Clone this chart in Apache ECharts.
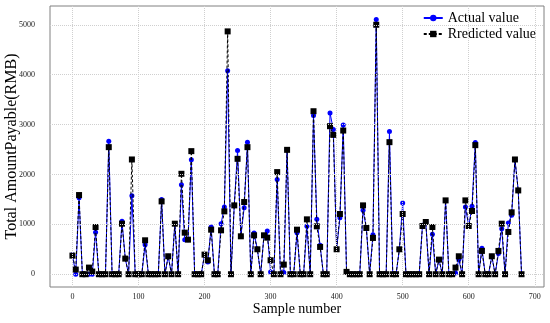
<!DOCTYPE html>
<html>
<head>
<meta charset="utf-8">
<script src="https://cdn.jsdelivr.net/npm/echarts@6/dist/echarts.min.js"></script>
<style>
html,body{margin:0;padding:0;background:#fff;}
#chart{width:550px;height:323px;}
</style>
</head>
<body>
<div id="chart"></div>
<script>
const sampleNumbers = [0,5,10,15,20,25,30,35,40,45,50,55,60,65,70,75,80,85,90,95,100,105,110,115,120,125,130,135,140,145,150,155,160,165,170,175,180,185,190,195,200,205,210,215,220,225,230,235,240,245,250,255,260,265,270,275,280,285,290,295,300,305,310,315,320,325,330,335,340,345,350,355,360,365,370,375,380,385,390,395,400,405,410,415,420,425,430,435,440,445,450,455,460,465,470,475,480,485,490,495,500,505,510,515,520,525,530,535,540,545,550,555,560,565,570,575,580,585,590,595,600,605,610,615,620,625,630,635,640,645,650,655,660,665,670,675,680];
const actualValues = [390,0,1533,0,0,0,0,840,0,0,0,2667,0,0,0,1060,313,0,1573,0,0,0,593,0,0,0,0,1500,0,360,0,1013,0,1793,693,693,2293,0,0,0,393,247,947,0,0,1013,1347,4080,0,1380,2480,760,1333,2647,0,827,500,0,780,867,47,0,1900,0,33,2493,0,0,833,0,0,960,0,3180,1100,580,0,0,3233,2900,500,1133,2993,47,0,0,0,0,1280,927,0,793,5107,0,0,0,2860,0,0,500,1427,0,0,0,0,0,980,1047,0,800,0,293,0,1480,0,0,27,293,0,1347,967,1360,2640,0,520,0,0,360,0,413,913,0,1027,1180,2300,1680,0];
const predictedValues = [373,93,1587,0,0,133,53,947,0,0,0,2547,0,0,0,1013,313,0,2300,0,0,0,680,0,0,0,0,1460,0,360,0,1013,0,2013,833,693,2467,0,0,0,393,280,893,0,0,880,1260,4867,0,1380,2313,760,1447,2547,0,780,500,0,780,733,280,0,2047,0,193,2493,0,0,893,0,0,1100,0,3267,960,547,0,0,2967,2793,500,1207,2880,47,0,0,0,0,1380,927,0,727,5000,0,0,0,2647,0,0,500,1207,0,0,0,0,0,967,1047,0,947,0,293,0,1480,0,0,133,360,0,1480,967,1267,2587,0,467,0,0,360,0,467,1013,0,847,1240,2300,1680,0];
const xTickValues = [0,100,200,300,400,500,600,700];
const yTickValues = [0,1000,2000,3000,4000,5000];

const serif = "'Liberation Serif','DejaVu Serif',serif";
const chart = echarts.init(document.getElementById('chart'), null, {renderer:'canvas'});
const gridLines = xTickValues.map(v => ({xAxis: v})).concat(yTickValues.map(v => ({yAxis: v})));

chart.setOption({
  animation: false,
  backgroundColor: '#fff',
  grid: {left: 50, top: 6, width: 494, height: 281, show: true, borderColor: '#808080', borderWidth: 1,
    backgroundColor: 'transparent', containLabel: false, outerBoundsMode: 'none'},
  legend: {
    orient: 'vertical', right: 9, top: 6, itemWidth: 19, itemHeight: 8, itemGap: 2,
    textStyle: {fontFamily: serif, fontSize: 14, color: '#000'},
    data: ['Actual value', 'Rredicted value']
  },
  xAxis: {
    type: 'value', min: -34, max: 714,
    name: 'Sample number', nameLocation: 'middle', nameGap: 15, nameMoveOverlap: false,
    nameTextStyle: {fontFamily: serif, fontSize: 14, color: '#000'},
    axisLine: {show: false}, axisTick: {show: false}, splitLine: {show: false},
    axisLabel: {customValues: xTickValues, margin: 6, fontFamily: serif, fontSize: 8, color: '#222',
      formatter: v => String(v)}
  },
  yAxis: {
    type: 'value', min: -256, max: 5376,
    name: 'Total AmountPayable(RMB)', nameLocation: 'middle', nameGap: 30, nameMoveOverlap: false,
    nameTextStyle: {fontFamily: serif, fontSize: 16, color: '#000'},
    axisLine: {show: false}, axisTick: {show: false}, splitLine: {show: false},
    axisLabel: {customValues: yTickValues, margin: 15, fontFamily: serif, fontSize: 8, color: '#222',
      formatter: v => String(v)}
  },
  series: [
    {
      type: 'line', name: 'gridlines', data: [], z: 1, silent: true,
      markLine: {silent: true, symbol: 'none', label: {show: false}, animation: false,
        lineStyle: {type: 'dotted', color: '#cfcfcf', width: 1}, data: gridLines}
    },
    {
      type: 'line', name: 'Actual value', z: 2,
      data: sampleNumbers.map((x, i) => [x, actualValues[i]]),
      symbol: 'circle', symbolSize: 5,
      itemStyle: {color: '#0000ff'}, lineStyle: {color: '#0000ff', width: 1}
    },
    {
      type: 'line', name: 'Rredicted value', z: 3,
      data: sampleNumbers.map((x, i) => [x, predictedValues[i]]),
      symbol: 'rect', symbolSize: 6,
      itemStyle: {color: '#000'}, lineStyle: {color: '#000', width: 1, type: [3, 2]}
    }
  ]
});
</script>
</body>
</html>
